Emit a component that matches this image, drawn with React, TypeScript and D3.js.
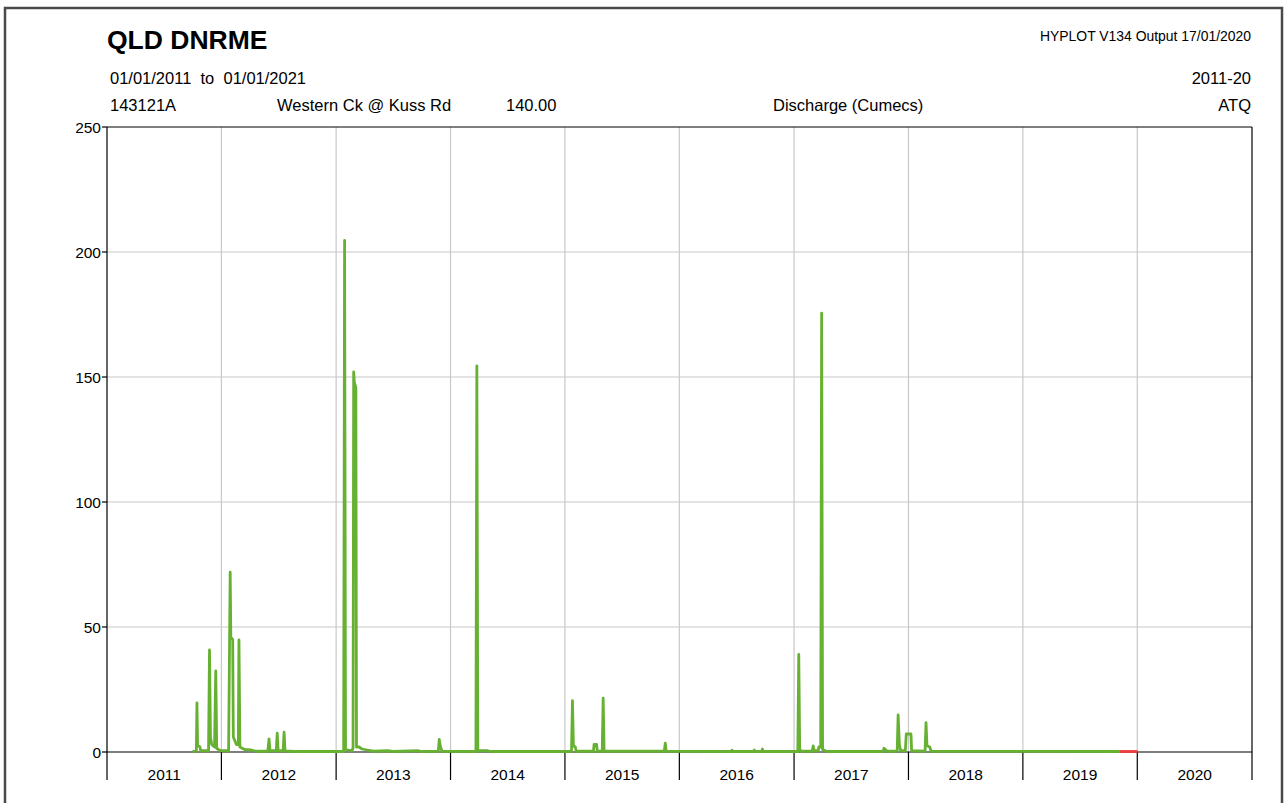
import React from "react";
import * as d3 from "d3";

const flowDates: string[] = [
  "2011-10-01","2011-10-13","2011-10-15","2011-10-17","2011-10-24","2011-10-27",
  "2011-11-21","2011-11-24","2011-11-27","2011-12-01","2011-12-10","2011-12-14","2011-12-17","2011-12-28",
  "2012-01-24","2012-01-29","2012-01-31","2012-02-06","2012-02-08","2012-02-18","2012-02-24","2012-02-26","2012-02-29",
  "2012-03-15","2012-04-05","2012-04-20","2012-05-28","2012-06-01","2012-06-04","2012-06-24","2012-06-27","2012-06-30",
  "2012-07-16","2012-07-19","2012-07-22","2012-08-20",
  "2013-01-25","2013-01-28","2013-01-31","2013-02-20","2013-02-24","2013-02-26","2013-02-28","2013-03-05","2013-03-07",
  "2013-03-15","2013-03-25","2013-04-10","2013-05-01","2013-06-15","2013-07-01","2013-09-20","2013-10-01",
  "2013-11-23","2013-11-26","2013-11-30","2013-12-05",
  "2014-03-23","2014-03-26","2014-03-29","2014-04-30","2014-05-10",
  "2015-01-22","2015-01-25","2015-01-28","2015-02-03","2015-02-06","2015-04-02","2015-04-04","2015-04-12","2015-04-14",
  "2015-04-30","2015-05-03","2015-05-06","2015-11-14","2015-11-17","2015-11-20",
  "2016-06-15","2016-06-17","2016-06-19","2016-08-25","2016-08-27","2016-08-29","2016-09-20","2016-09-22","2016-09-24",
  "2017-01-13","2017-01-16","2017-01-19","2017-01-25","2017-02-28","2017-03-03","2017-03-06","2017-03-19","2017-03-21",
  "2017-03-27","2017-03-30","2017-04-02","2017-04-15","2017-10-12","2017-10-15","2017-10-25","2017-11-26","2017-11-29",
  "2017-12-03","2017-12-07","2017-12-22","2017-12-25","2018-01-09","2018-01-11",
  "2018-02-23","2018-02-26","2018-03-01","2018-03-10","2018-03-14","2019-11-06",
];

const flowValues: number[] = [
  0.2, 0.3, 19.6, 2.5, 2.2, 0.5,
  0.5, 40.8, 6, 3, 2, 32.4, 1.5, 0.5,
  0.5, 71.9, 46, 45, 6, 3, 3, 44.8, 2,
  1, 0.8, 0.3, 0.3, 5.2, 0.5, 0.5, 7.5, 0.5,
  0.5, 7.9, 0.4, 0.2,
  0.2, 204.6, 1, 0.5, 1.5, 152, 148, 145.7, 2,
  2, 1.2, 0.8, 0.3, 0.5, 0.2, 0.5, 0.2,
  0.3, 5, 2, 0.3,
  0.2, 154.4, 0.5, 0.5, 0.2,
  0.2, 20.5, 2.5, 2, 0.3, 0.3, 3, 3, 0.3,
  0.3, 21.5, 0.3, 0.3, 3.5, 0.3,
  0.2, 0.7, 0.2, 0.2, 0.8, 0.2, 0.2, 1.2, 0.2,
  0.2, 39, 1, 0.3, 0.3, 2.4, 0.5, 0.5, 2,
  2, 175.5, 1, 0.2, 0.2, 1.5, 0.3, 0.3, 14.8,
  3, 0.5, 0.5, 7.2, 7.2, 0.5,
  0.3, 11.7, 2.5, 2, 0.3, 0.2,
];

const poorDates: string[] = ["2019-11-06", "2020-01-02"];
const poorValues: number[] = [0.2, 0.2];

const yTicks: number[] = [0, 50, 100, 150, 200, 250];
const yearLabels: string[] = ["2011","2012","2013","2014","2015","2016","2017","2018","2019","2020"];

const FONT = "'Liberation Sans', Arial, sans-serif";

export default function App() {
  const left = 107, right = 1252, top = 127, bottom = 752, tickBottom = 780;
  const parse = d3.timeParse("%Y-%m-%d");
  const x = d3.scaleTime()
    .domain([new Date(2011, 0, 1), new Date(2021, 0, 1)])
    .range([left, right]);
  const y = d3.scaleLinear().domain([0, 250]).range([bottom, top]);

  const flow = flowDates.map((d, i) => ({ date: parse(d) as Date, v: flowValues[i] }));
  const poor = poorDates.map((d, i) => ({ date: parse(d) as Date, v: poorValues[i] }));
  const line = d3.line<{ date: Date; v: number }>()
    .x((d) => x(d.date))
    .y((d) => y(d.v));

  const yearStarts = d3.range(2011, 2022).map((yr) => new Date(yr, 0, 1));

  return (
    <svg
      width={1287}
      height={803}
      style={{ position: "fixed", left: 0, top: 0, background: "#fff" }}
      fontFamily={FONT}
    >
      <rect x={0} y={0} width={1287} height={803} fill="#fff" />
      <rect x={5} y={8} width={1277} height={810} fill="none" stroke="#4a4a4a" strokeWidth={2.5} />

      {/* header */}
      <text x={107} y={49} fontSize={26.5} fontWeight="bold" fill="#000">QLD DNRME</text>
      <text x={1251} y={41} fontSize={14} textAnchor="end" fill="#000" textLength={211} lengthAdjust="spacingAndGlyphs">
        HYPLOT V134  Output 17/01/2020
      </text>
      <text x={110} y={84} fontSize={16.5} fill="#000" style={{ whiteSpace: "pre" }}>01/01/2011  to  01/01/2021</text>
      <text x={1251} y={84} fontSize={16.5} textAnchor="end" fill="#000">2011-20</text>
      <text x={110} y={111} fontSize={16.5} fill="#000">143121A</text>
      <text x={277} y={111} fontSize={16.5} fill="#000">Western Ck @ Kuss Rd</text>
      <text x={506} y={111} fontSize={16.5} fill="#000">140.00</text>
      <text x={773} y={111} fontSize={16.5} fill="#000">Discharge (Cumecs)</text>
      <text x={1251} y={111} fontSize={16.5} textAnchor="end" fill="#000">ATQ</text>

      {/* grid */}
      {yTicks.filter((t) => t > 0 && t < 250).map((t) => (
        <line key={"gy" + t} x1={left} x2={right} y1={y(t)} y2={y(t)} stroke="#c8c8c8" strokeWidth={1.2} />
      ))}
      {yearStarts.slice(1, -1).map((d, i) => (
        <line key={"gx" + i} x1={x(d)} x2={x(d)} y1={top} y2={bottom} stroke="#c8c8c8" strokeWidth={1.2} />
      ))}

      {/* axes frame */}
      <line x1={left} x2={right} y1={top} y2={top} stroke="#000" strokeWidth={1.2} />
      <line x1={left} x2={right} y1={bottom} y2={bottom} stroke="#000" strokeWidth={1.2} />
      {yearStarts.map((d, i) => (
        <line key={"yt" + i} x1={x(d)} x2={x(d)} y1={i === 0 || i === yearStarts.length - 1 ? top : bottom} y2={tickBottom} stroke="#000" strokeWidth={1.2} />
      ))}
      {yTicks.map((t) => (
        <g key={"yl" + t}>
          <line x1={left - 5} x2={left} y1={y(t)} y2={y(t)} stroke="#000" strokeWidth={1.2} />
          <text x={left - 6} y={y(t)} dy="0.36em" fontSize={15.5} textAnchor="end" fill="#000">{t}</text>
        </g>
      ))}
      {yearLabels.map((lab, i) => {
        const cx = (x(yearStarts[i]) + x(yearStarts[i + 1])) / 2;
        return (
          <text key={"xl" + lab} x={cx} y={780} fontSize={15.5} textAnchor="middle" fill="#000">{lab}</text>
        );
      })}

      {/* data */}
      <path d={line(flow) || ""} fill="none" stroke="#66b032" strokeWidth={2.8} strokeLinejoin="round" />
      <path d={line(poor) || ""} fill="none" stroke="#f03c3c" strokeWidth={2.8} />
    </svg>
  );
}
